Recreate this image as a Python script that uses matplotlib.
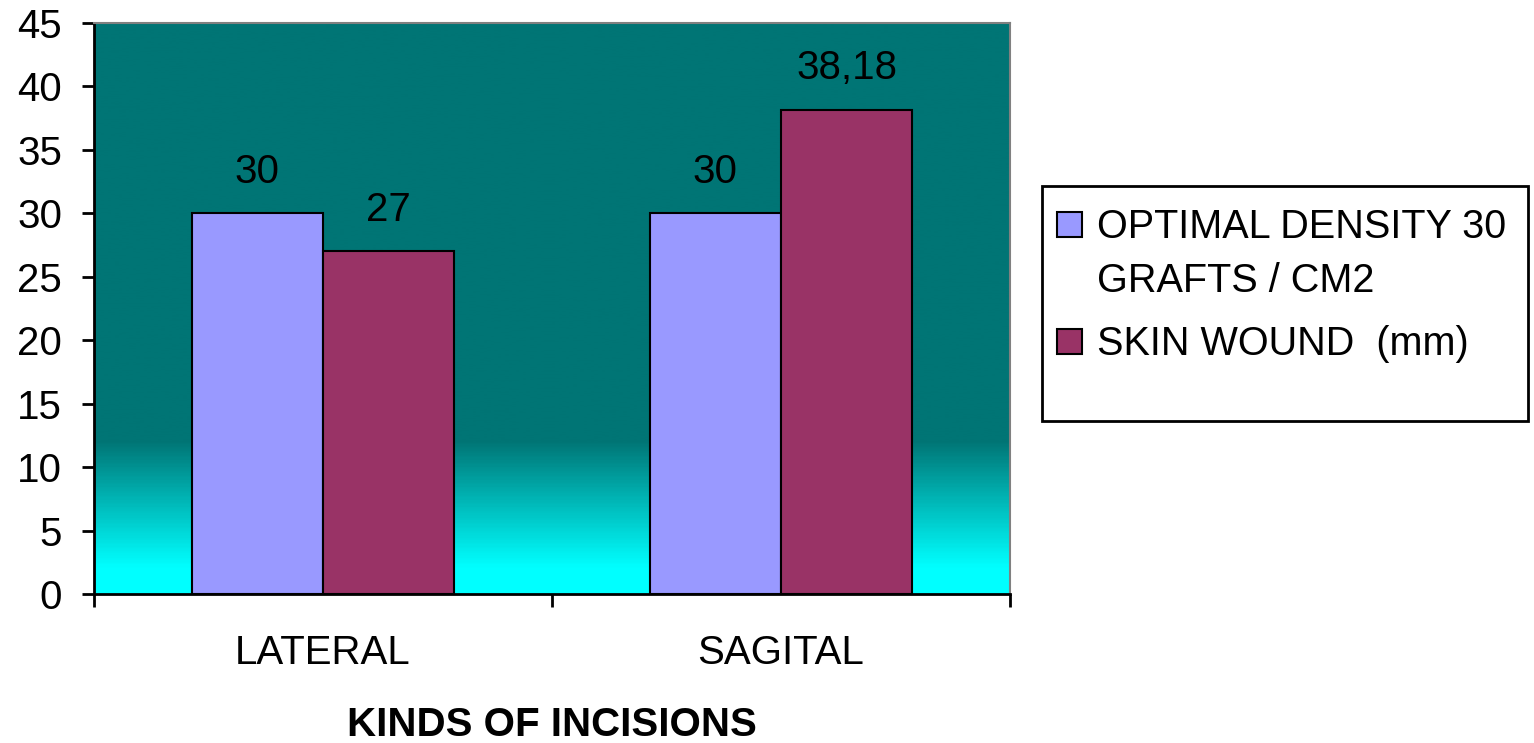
import numpy as np
import matplotlib
matplotlib.use("Agg")
import matplotlib.pyplot as plt
from matplotlib.colors import LinearSegmentedColormap
from matplotlib.patches import Rectangle

plt.rcParams['font.family'] = ['Liberation Sans', 'DejaVu Sans']

categories = ['LATERAL', 'SAGITAL']
series_names = [['OPTIMAL DENSITY 30', 'GRAFTS / CM2'], ['SKIN WOUND  (mm)']]
optimal_density = [30, 30]
skin_wound = [27, 38.18]
colors = ['#9999FF', '#993366']
y_ticks = list(range(0, 50, 5))

W, H = 1534, 743
FS = 29

fig = plt.figure(figsize=(W / 100, H / 100), dpi=100)
ax = fig.add_axes([94 / W, 1 - 594 / H, (1010 - 94) / W, (594 - 23) / H])

# fond dégradé teal -> cyan
grad_cmap = LinearSegmentedColormap.from_list(
    'bg', [(0.0, '#00FFFF'), (2.0 / 45, '#00FFFF'), (12.0 / 45, '#007575'), (1.0, '#007575')])
grad = np.linspace(0, 1, 400).reshape(-1, 1)
ax.imshow(grad, extent=[0, 2, 0, 45], origin='lower', aspect='auto', cmap=grad_cmap, zorder=0)

x = np.arange(len(categories)) + 0.5
w = 0.287
all_series = [optimal_density, skin_wound]
for i, vals in enumerate(all_series):
    pos = x + (i - 0.5) * w
    bars = ax.bar(pos, vals, width=w, color=colors[i], edgecolor='black', linewidth=1.5, zorder=2)
    for b, v in zip(bars, vals):
        txt = f'{v:g}'.replace('.', ',')
        ax.annotate(txt, (b.get_x() + b.get_width() / 2, v), xytext=(0, 30),
                    textcoords='offset points', ha='center', va='center', fontsize=FS)

ax.set_xlim(0, 2)
ax.set_ylim(0, 45)
ax.set_yticks(y_ticks)
ax.set_xticks([0, 1, 2])
ax.set_xticks(x, minor=True)
ax.set_xticklabels([])
ax.set_xticklabels(categories, minor=True, fontsize=FS)
ax.tick_params(axis='x', which='minor', length=0, pad=29)
ax.tick_params(axis='x', which='major', length=9, width=2, direction='out')
ax.tick_params(axis='y', length=9, width=2, direction='out', labelsize=FS, pad=14)
ax.set_xlabel('KINDS OF INCISIONS', fontsize=FS, fontweight='bold', labelpad=24)

for s in ['left', 'bottom']:
    ax.spines[s].set_linewidth(2)
    ax.spines[s].set_color('black')
for s in ['top', 'right']:
    ax.spines[s].set_linewidth(1.5)
    ax.spines[s].set_color('#808080')

# légende (dessinée à la main)
fig.patches.append(Rectangle((1042 / W, 1 - 421 / H), (1528 - 1042) / W, (421 - 186) / H,
                             transform=fig.transFigure, facecolor='white', edgecolor='black',
                             linewidth=2))
box_tops = [212, 329]
for c, names, top in zip(colors, series_names, box_tops):
    fig.patches.append(Rectangle((1057 / W, 1 - (top + 25) / H), 25 / W, 25 / H,
                                 transform=fig.transFigure, facecolor=c, edgecolor='black',
                                 linewidth=1.5))
    for k, line in enumerate(names):
        base = top + 26 + 54 * k
        fig.text(1097 / W, 1 - base / H, line, fontsize=FS - 0.5, ha='left', va='baseline')

fig.savefig('out.png', dpi=100)
